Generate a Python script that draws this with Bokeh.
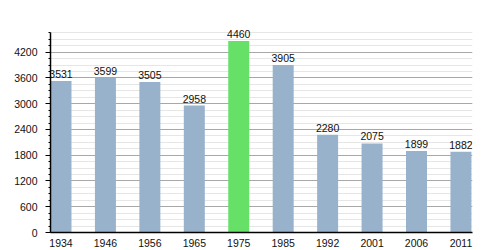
from bokeh.plotting import figure
from bokeh.models import ColumnDataSource, FixedTicker, Range1d, LabelSet
from bokeh.core.properties import value
from bokeh.embed import file_html
from bokeh.resources import INLINE

years = ["1934", "1946", "1956", "1965", "1975", "1985", "1992", "2001", "2006", "2011"]
population = [3531, 3599, 3505, 2958, 4460, 3905, 2280, 2075, 1899, 1882]
highlight_year = "1975"
y_major = [0, 600, 1200, 1800, 2400, 3000, 3600, 4200]
y_minor = list(range(0, 4651, 150))
y_axis_top = 4660

xs = list(range(len(years)))
colors = ["#66e066" if y == highlight_year else "#98b2cc" for y in years]
src = ColumnDataSource(dict(x=xs, top=population, color=colors,
                            label=[str(v) for v in population]))

p = figure(width=500, height=250, output_backend="svg", toolbar_location=None,
           x_range=Range1d(-0.236, 9.26), y_range=Range1d(0, y_axis_top * 214 / 200),
           min_border_left=50, min_border_right=28, min_border_top=18, min_border_bottom=18)
p.outline_line_color = None
p.background_fill_color = "white"
p.border_fill_color = "white"

p.vbar(x="x", top="top", width=0.4725, bottom=0, color="color", line_color=None, source=src)
labels = LabelSet(x="x", y="top", text="label", source=src, text_align="center",
                  text_baseline="bottom", y_offset=3, text_font=value("Liberation Sans"),
                  text_font_size=value("10.5px"), text_color=value("#111111"))
p.add_layout(labels)

p.xaxis.ticker = FixedTicker(ticks=xs)
p.xaxis.major_label_overrides = {i: y for i, y in enumerate(years)}
p.xaxis.major_tick_line_color = None
p.xaxis.minor_tick_line_color = None
p.xaxis.axis_line_color = "black"
p.xaxis.axis_line_width = 1.5
p.xaxis.major_label_standoff = 0
p.xaxis.major_label_text_font = "Liberation Sans"
p.xaxis.major_label_text_font_size = "10.5px"
p.xaxis.major_label_text_color = "#111111"

p.yaxis.ticker = FixedTicker(ticks=y_major, minor_ticks=y_minor)
p.yaxis.bounds = (0, y_axis_top)
p.yaxis.axis_line_color = "black"
p.yaxis.axis_line_width = 1.5
p.yaxis.major_tick_out = 5
p.yaxis.major_tick_in = 0
p.yaxis.minor_tick_out = 2
p.yaxis.minor_tick_in = 0
p.yaxis.major_tick_line_color = "black"
p.yaxis.minor_tick_line_color = "black"
p.yaxis.major_label_standoff = 8
p.yaxis.major_label_text_font = "Liberation Sans"
p.yaxis.major_label_text_font_size = "10.5px"
p.yaxis.major_label_text_color = "#111111"

p.xgrid.grid_line_color = None
p.ygrid.grid_line_color = "#a8a8a8"
p.ygrid.minor_grid_line_color = "#e6e6e6"
p.ygrid.level = "underlay"

open("out.html", "w").write(file_html(p, INLINE))
